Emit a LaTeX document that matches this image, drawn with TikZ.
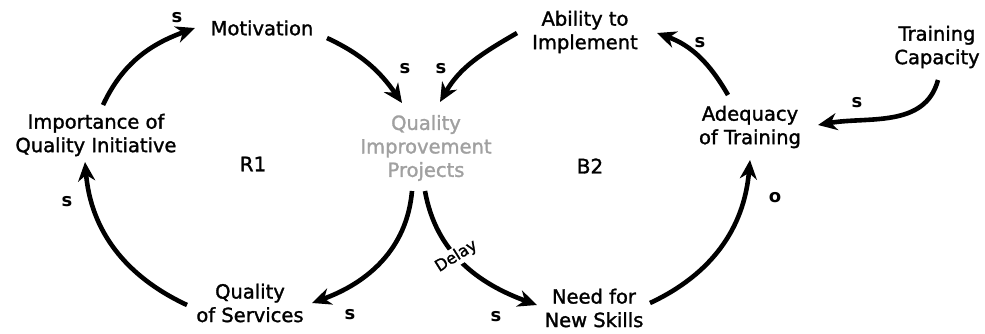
\documentclass[tikz,border=0pt]{standalone}
\usepackage{fontspec}
\setmainfont{DejaVu Sans}
\newfontfamily\varfont{DejaVu Sans}[FakeBold=1.5]
\usetikzlibrary{arrows.meta}
\definecolor{qgray}{RGB}{160,160,160}
\begin{document}
\begin{tikzpicture}[x=1pt,y=1pt,
  var/.style={align=center, font=\varfont\fontsize{19.5}{23.5}\selectfont, inner sep=0pt},
  link/.style={line width=4.6pt, -{Stealth[length=19pt,width=17pt,inset=6pt]}},
  pol/.style={font=\fontsize{18}{18}\selectfont\bfseries, inner sep=0pt},
  loopname/.style={font=\varfont\fontsize{20}{20}\selectfont, inner sep=0pt},
  delaylab/.style={font=\varfont\fontsize{16}{16}\selectfont, fill=white, inner sep=1.5pt, rotate=32}]
\useasboundingbox (0,0) rectangle (985,-333);
\node[var] (imp) at (96,-135) {Importance of\\Quality Initiative};
\node[var] (mot) at (262,-28) {Motivation};
\node[var, text=qgray] (qip) at (426,-148) {Quality\\Improvement\\Projects};
\node[var] (qos) at (250,-303) {Quality\\of Services};
\node[var] (abl) at (585,-32) {Ability to\\Implement};
\node[var] (trn) at (937,-47) {Training\\Capacity};
\node[var] (adq) at (750,-127) {Adequacy\\of Training};
\node[var] (need) at (594,-308) {Need for\\New Skills};
\node[loopname] (r1) at (253,-164) {R1};
\node[loopname] (b2) at (590,-166) {B2};
\draw[link] ([shift={(7,30)}]imp.center) to[out=65,in=200] ([shift={(-67,0)}]mot.center);
\draw[link] ([shift={(65,-10)}]mot.center) to[out=-25,in=125] ([shift={(-24,45)}]qip.center);
\draw[link] ([shift={(-68,-1)}]abl.center) to[out=210,in=60] ([shift={(14,46)}]qip.center);
\draw[link] ([shift={(-14,-43)}]qip.center) to[out=-95,in=20] ([shift={(62,0)}]qos.center);
\draw[link] ([shift={(-63,-2)}]qos.center) to[out=155,in=-85] ([shift={(-11,-27)}]imp.center);
\draw[link] ([shift={(-1,-43)}]qip.center) to[out=-80,in=160] node[delaylab, pos=0.44] (delay) {Delay} ([shift={(-57,3)}]need.center);
\draw[link] ([shift={(56,5)}]need.center) to[out=25,in=-95] ([shift={(0,-33)}]adq.center);
\draw[link] ([shift={(-22,32)}]adq.center) to[out=120,in=-20] ([shift={(72,-1)}]abl.center);
\draw[link] ([shift={(1,-33)}]trn.center) to[out=-105,in=10] ([shift={(68,2)}]adq.center);
\node[pol] (p1) at (177,-18) {s};
\node[pol] (p2) at (405,-69) {s};
\node[pol] (p3) at (441,-69) {s};
\node[pol] (p4) at (67,-202) {s};
\node[pol] (p5) at (350,-315) {s};
\node[pol] (p6) at (496,-317) {s};
\node[pol] (p7) at (775,-198) {o};
\node[pol] (p8) at (700,-43) {s};
\node[pol] (p9) at (857,-103) {s};
\end{tikzpicture}
\end{document}
